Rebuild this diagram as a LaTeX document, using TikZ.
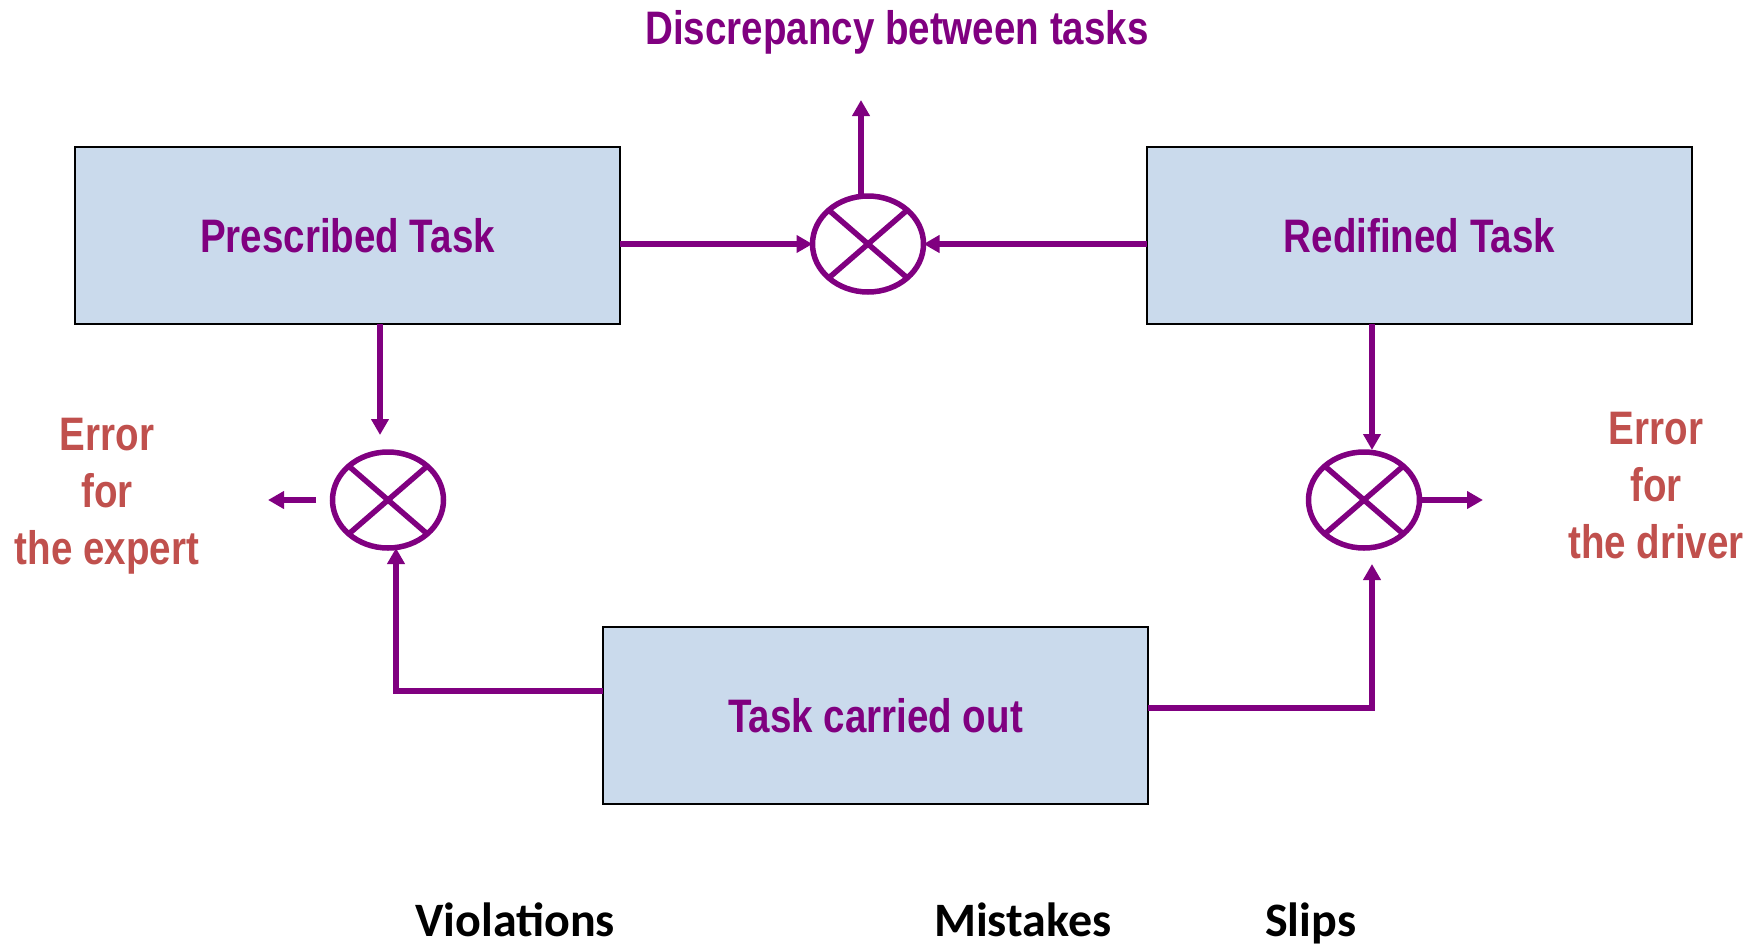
\documentclass[tikz,border=0pt]{standalone}
\usepackage{fontspec}
\newfontfamily\nb[FakeStretch=0.82]{Liberation Sans}
\newfontfamily\cb{Carlito}
\usetikzlibrary{arrows.meta,shapes.geometric}
\definecolor{pur}{RGB}{128,0,128}
\definecolor{errred}{RGB}{192,80,77}
\definecolor{boxblue}{RGB}{202,218,236}
\tikzset{
  taskbox/.style={draw=black,line width=2pt,fill=boxblue,rectangle,minimum width=545pt,minimum height=177pt,inner sep=0pt,outer sep=0pt,text=pur,font=\nb\bfseries\fontsize{47}{56}\selectfont},
  mult/.style={draw=pur,line width=5.5pt,ellipse,minimum width=111pt,minimum height=96pt,inner sep=0pt,outer sep=0pt,
    path picture={\draw[pur,line width=5.5pt] (path picture bounding box.north west) -- (path picture bounding box.south east)
      (path picture bounding box.north east) -- (path picture bounding box.south west);}},
  arr/.style={draw=pur,line width=5.5pt,-{Triangle[length=16pt,width=17pt]}},
  errlab/.style={text=errred,align=center,font=\nb\bfseries\fontsize{47}{57}\selectfont,inner sep=0pt},
  bottomlab/.style={anchor=base west,inner sep=0pt,font=\cb\bfseries\fontsize{48}{56}\selectfont},
}
\begin{document}
\begin{tikzpicture}[x=1pt,y=-1pt]
\useasboundingbox (0,0) rectangle (1764,943);
% boxes
\node[taskbox] (P) at (347.5,235.5) {Prescribed Task};
\node[taskbox] (R) at (1419.5,235.5) {Redifined Task};
\node[taskbox] (T) at (875.5,715.5) {Task carried out};
% multipliers
\node[mult] (C1) at (868,244) {};
\node[mult] (C2) at (388,500) {};
\node[mult] (C3) at (1364,500) {};
% labels
\node[anchor=base,inner sep=0pt,text=pur,font=\nb\bfseries\fontsize{47}{56}\selectfont] (D) at (897,44) {Discrepancy between tasks};
\node[errlab] (E1) at (107,496) {Error\\for\\the expert};
\node[errlab] (E2) at (1656,486) {Error\\for\\the driver};
\node[bottomlab] (V) at (415,936) {Violations};
\node[bottomlab] (M) at (934,936) {Mistakes};
\node[bottomlab] (S) at (1265,936) {Slips};
% coordinates
\coordinate (up) at (861,100);
\coordinate (pd) at (380,435);
\coordinate (l1s) at (316,500);
\coordinate (l1e) at (268,500);
\coordinate (lk) at (396,691);
\coordinate (rd) at (1372,450);
\coordinate (rk) at (1372,708);
\coordinate (rt) at (1372,564);
\coordinate (r1e) at (1483,500);
% connectors
\draw[arr] (P.east |- C1.west) -- (C1.west);
\draw[arr] (R.west |- C1.east) -- (C1.east);
\draw[arr] (C1.north -| up) -- (up);
\draw[arr] (P.south -| pd) -- (pd);
\draw[arr] (l1s) -- (l1e);
\draw[arr] (T.west |- lk) -- (lk) -- (lk |- C2.south);
\draw[arr] (R.south -| rd) -- (rd);
\draw[arr] (T.east |- rk) -- (rk) -- (rt);
\draw[arr] (C3.east) -- (r1e);
\end{tikzpicture}
\end{document}
